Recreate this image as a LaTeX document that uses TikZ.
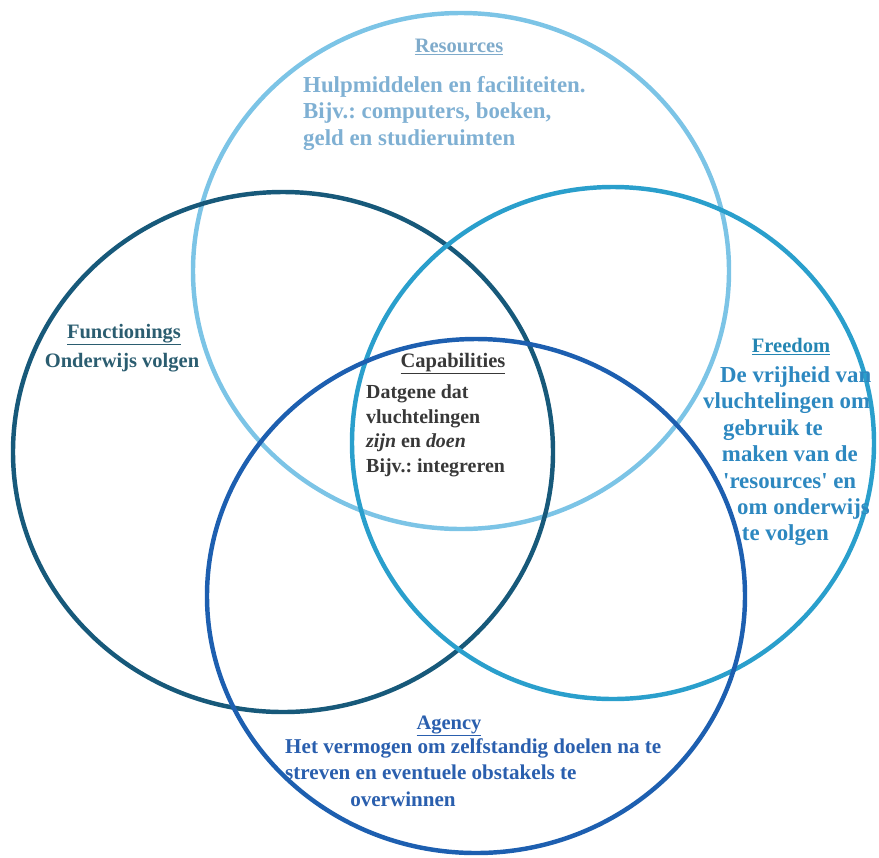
\documentclass[tikz,border=0pt]{standalone}
\usepackage{fontspec}
\setmainfont{Liberation Serif}
\usetikzlibrary{positioning}
\frenchspacing
\definecolor{resline}{HTML}{7CC4E6}
\definecolor{funline}{HTML}{17597A}
\definecolor{freeline}{HTML}{2A9FCC}
\definecolor{ageline}{HTML}{1D5FB0}
\definecolor{restext}{HTML}{7FB0D3}
\definecolor{funtext}{HTML}{2B5D70}
\definecolor{captext}{HTML}{383838}
\definecolor{freetext}{HTML}{2D88C0}
\definecolor{agetext}{HTML}{2A5FAE}

\begin{document}
\begin{tikzpicture}[x=0.03cm, y=-0.03cm,
  ring/.style={line width=3.8pt},
  head/.style={inner sep=0pt, anchor=base, font=\bfseries\fontsize{17.5}{21}\selectfont},
  body/.style={inner sep=0pt, anchor=north west, align=left, font=\bfseries\fontsize{#1}{22.6}\selectfont}]
  \useasboundingbox (0,0) rectangle (879,857);

  \draw[ring, resline] (461,271) circle[x radius=268, y radius=258];
  \draw[ring, funline] (283,452) circle[x radius=270, y radius=260];
  \draw[ring, freeline] (613,443) circle[x radius=261, y radius=256];
  \draw[ring, ageline] (476,596) circle[x radius=269, y radius=257];

  \node[head, text=restext!90!gray] (resh) at (459,52) {\underline{Resources}};
  \node[body=19.5, text=restext] (resb) at (303,76) {Hulpmiddelen en faciliteiten.\\Bijv.: computers, boeken,\\geld en studieruimten};

  \node[head, text=funtext] (funh) at (124,338) {\underline{Functionings}};
  \node[body=17.5, anchor=north, text=funtext] (funb) at (122,353) {Onderwijs volgen};

  \node[head, text=captext] (caph) at (453,367) {\underline{Capabilities}};
  \node[body=17, text=captext, font=\bfseries\fontsize{17}{21.3}\selectfont] (capb) at (366,384) {Datgene dat\\vluchtelingen\\\textit{zijn} en \textit{doen}\\Bijv.: integreren};

  \node[head, text=freetext!80!teal] (freeh) at (791,352) {\underline{Freedom}};
  \node[body=19.5, text=freetext] (freeb) at (703,366) {\hspace*{14.5pt}De vrijheid van\\vluchtelingen om\\\hspace*{17pt}gebruik te\\\hspace*{16pt}maken van de\\\hspace*{17pt}\textquotesingle resources\textquotesingle{} en\\\hspace*{29pt}om onderwijs\\\hspace*{33pt}te volgen};

  \node[head, text=agetext] (ageh) at (449,729) {\underline{Agency}};
  \node[body=18, text=agetext] (ageb) at (285,738) {Het vermogen om zelfstandig doelen na te\\streven en eventuele obstakels te\\\hspace*{55.5pt}overwinnen};
\end{tikzpicture}
\end{document}
